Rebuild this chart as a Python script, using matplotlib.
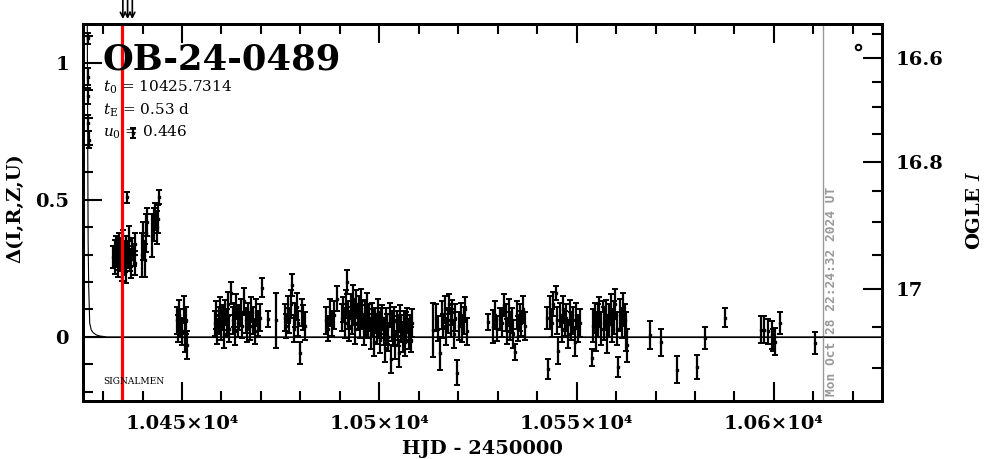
import matplotlib
matplotlib.use('Agg')
import matplotlib.pyplot as plt
from matplotlib.ticker import FixedLocator, MultipleLocator

plt.rcParams['font.family'] = ['DejaVu Serif']
plt.rcParams['mathtext.fontset'] = 'dejavuserif'

# ---------------- data ----------------
hjd = [
    # peak
    10426.05, 10426.15, 10426.20, 10426.25, 10426.30,
    # first season cluster
    10432.6, 10432.9, 10433.1, 10433.3, 10433.5, 10433.7, 10433.9, 10434.1, 10434.3, 10434.5,
    10434.7, 10434.9, 10435.1, 10435.3, 10435.5, 10435.7, 10435.9, 10436.0, 10436.2, 10436.4,
    10436.6, 10436.8, 10437.0, 10437.3, 10437.6, 10437.7, 10438.0, 10438.2,
    10439.8, 10440.2, 10440.5, 10440.8, 10441.1, 10442.5, 10442.8, 10443.2, 10443.6, 10443.9, 10444.25,
    # A
    10448.6, 10448.9, 10449.2, 10449.6, 10450.0, 10450.4, 10450.7, 10451.0, 10451.2,
    # B
    10458.3, 10458.6, 10458.9, 10459.3, 10459.6, 10459.9, 10460.3, 10460.6, 10461.0, 10461.3,
    10461.7, 10462.0, 10462.4, 10462.8, 10463.1, 10463.5, 10463.8, 10464.2, 10464.5, 10464.9,
    10465.3, 10465.7, 10466.1, 10466.4,
    # C
    10466.8, 10467.2, 10467.6, 10468.0, 10468.4, 10468.8, 10469.3, 10469.7, 10470.2, 10471.8, 10473.8,
    # D
    10476.0, 10476.4, 10476.8, 10477.2, 10477.6, 10477.9, 10478.3, 10478.7, 10479.1, 10479.5,
    10479.9, 10480.3, 10480.7, 10481.1,
    # E
    10486.5, 10487.0, 10487.5, 10488.0, 10488.6, 10489.2,
    10490.6, 10490.9, 10491.2, 10491.5, 10491.8, 10492.1, 10492.4, 10492.7, 10493.0, 10493.3,
    10493.6, 10493.9, 10494.2, 10494.5, 10494.8, 10495.1, 10495.4, 10495.7, 10496.0, 10496.3,
    10496.6, 10496.9, 10497.2, 10497.5, 10497.8, 10498.1, 10498.4, 10498.7, 10499.0, 10499.3,
    10499.6, 10499.9, 10500.2, 10500.5, 10500.8, 10501.1, 10501.4, 10501.7, 10502.0, 10502.3,
    10502.6, 10502.9, 10503.2, 10503.5, 10503.8, 10504.1, 10504.4, 10504.7, 10505.0, 10505.3,
    10505.6, 10505.9, 10506.2, 10506.5, 10506.8, 10507.1, 10507.4, 10507.7, 10508.0, 10508.3,
    # F
    10513.6, 10514.4, 10514.8, 10515.4, 10515.8, 10516.2, 10516.6, 10517.0, 10517.4, 10517.7,
    10518.1, 10518.5, 10518.9, 10519.3, 10519.8, 10520.2, 10520.6, 10521.0, 10521.4, 10521.8, 10522.2,
    # G
    10527.6, 10528.7, 10529.3, 10529.8, 10530.6, 10531.0, 10531.6, 10532.0, 10532.4, 10532.8,
    10533.2, 10533.6, 10534.0, 10534.4, 10534.8, 10535.2, 10535.6, 10536.0, 10536.5, 10536.9,
    # H
    10542.4, 10542.8, 10543.3, 10543.7, 10544.1, 10544.7, 10545.0, 10545.4, 10545.8, 10546.2,
    10546.6, 10547.0, 10547.4, 10547.8, 10548.2, 10548.6, 10549.0, 10549.5, 10549.9, 10550.4, 10550.9,
    # I
    10553.8, 10554.2, 10554.6, 10555.0, 10555.4, 10555.8, 10556.2, 10556.6, 10557.0, 10557.4,
    10557.8, 10558.2, 10558.6, 10559.0, 10559.4, 10559.8, 10560.2, 10560.6, 10561.0, 10561.4,
    10561.8, 10562.2, 10562.6, 10562.8,
    # J
    10568.6, 10571.4, 10575.4, 10580.5, 10582.5, 10587.6,
    # K
    10596.7, 10597.6, 10598.6, 10599.4, 10599.8, 10600.4, 10601.5,
    # L
    10610.4,
]

dflux = [
    1.09, 0.95, 0.88, 0.78, 0.72,
    0.29, 0.31, 0.27, 0.33, 0.30, 0.26, 0.34, 0.29, 0.32, 0.28,
    0.25, 0.31, 0.35, 0.27, 0.30, 0.33, 0.24, 0.51, 0.29, 0.31,
    0.36, 0.28, 0.26, 0.32, 0.745, 0.30, 0.34, 0.27,
    0.30, 0.35, 0.28, 0.38, 0.42, 0.37, 0.41, 0.44, 0.40, 0.43, 0.51,
    0.06, 0.03, 0.08, 0.05, 0.02, 0.10, 0.00, 0.06, -0.03,
    0.05, 0.08, 0.02, 0.06, 0.10, 0.04, 0.07, 0.01, 0.09, 0.05,
    0.12, 0.03, 0.16, 0.06, 0.08, 0.02, 0.11, 0.05, 0.07, 0.09,
    0.04, 0.13, 0.06, 0.03,
    0.08, 0.04, 0.10, 0.06, 0.02, 0.09, 0.05, 0.07, 0.18, 0.065, 0.06,
    0.07, 0.04, 0.10, 0.06, 0.12, 0.19, 0.03, 0.08, 0.11, 0.05,
    -0.06, 0.09, 0.07, 0.04,
    0.06, 0.03, 0.09, 0.05, 0.08, 0.14,
    0.07, 0.10, 0.05, 0.12, 0.20, 0.08, 0.04, 0.11, 0.06, 0.14,
    0.09, 0.03, 0.12, 0.07, 0.10, 0.05, 0.13, 0.08, 0.02, 0.09,
    0.06, 0.11, 0.04, 0.07, 0.01, 0.08, 0.05, -0.02, 0.06, 0.03,
    0.09, 0.04, -0.01, 0.05, 0.07, 0.02, -0.04, 0.06, 0.03, 0.00,
    0.08, -0.08, 0.04, 0.01, 0.06, -0.03, 0.05, 0.02, -0.06, 0.07,
    0.03, 0.00, 0.05, -0.02, 0.04, 0.06, 0.01, 0.03, -0.01, 0.05,
    0.025, 0.07, 0.03, -0.06, 0.08, 0.04, 0.10, 0.02, 0.06, 0.12,
    0.05, 0.09, 0.01, 0.07, -0.13, 0.04, 0.08, 0.03, 0.06, 0.10, 0.02,
    0.055, 0.037, 0.08, 0.03, 0.065, 0.05, 0.117, 0.07, 0.02, 0.09,
    0.04, 0.06, 0.01, -0.055, 0.08, 0.03, 0.07, 0.05, 0.10, 0.04,
    0.07, -0.117, 0.09, 0.05, 0.12, 0.16, 0.06, -0.05, 0.08, 0.03,
    0.10, 0.05, 0.07, 0.01, 0.09, 0.04, 0.06, -0.02, 0.08, 0.03, 0.05,
    -0.076, 0.04, 0.07, 0.02, 0.06, 0.09, 0.03, 0.11, 0.05, 0.08,
    0.01, 0.06, 0.10, 0.04, 0.07, 0.12, 0.03, -0.11, 0.08, 0.05,
    0.10, 0.06, 0.02, -0.03,
    0.007, -0.02, -0.12, -0.11, -0.005, 0.07,
    0.026, 0.026, 0.02, 0.007, -0.01, -0.017, 0.052,
    -0.023,
]

err = [
    0.02, 0.03, 0.03, 0.03, 0.03,
    0.04, 0.045, 0.04, 0.04, 0.045, 0.04, 0.04, 0.045, 0.04, 0.04,
    0.045, 0.04, 0.04, 0.045, 0.04, 0.04, 0.045, 0.02, 0.04, 0.04,
    0.045, 0.04, 0.045, 0.04, 0.018, 0.04, 0.04, 0.045,
    0.08, 0.07, 0.06, 0.07, 0.05, 0.08, 0.06, 0.05, 0.06, 0.05, 0.025,
    0.05, 0.05, 0.055, 0.05, 0.05, 0.05, 0.055, 0.05, 0.05,
    0.045, 0.05, 0.045, 0.05, 0.045, 0.05, 0.045, 0.05, 0.045, 0.05,
    0.045, 0.05, 0.04, 0.05, 0.045, 0.05, 0.045, 0.05, 0.045, 0.05,
    0.045, 0.05, 0.045, 0.05,
    0.045, 0.05, 0.045, 0.05, 0.045, 0.05, 0.045, 0.05, 0.035, 0.03, 0.10,
    0.05, 0.045, 0.05, 0.045, 0.05, 0.04, 0.05, 0.045, 0.05, 0.045,
    0.04, 0.05, 0.045, 0.05,
    0.05, 0.045, 0.05, 0.045, 0.05, 0.045,
    0.05, 0.045, 0.055, 0.05, 0.045, 0.05, 0.055, 0.045, 0.05, 0.05,
    0.045, 0.055, 0.05, 0.045, 0.05, 0.055, 0.045, 0.05, 0.05, 0.045,
    0.055, 0.05, 0.045, 0.05, 0.055, 0.045, 0.05, 0.05, 0.045, 0.055,
    0.05, 0.045, 0.05, 0.055, 0.045, 0.05, 0.05, 0.045, 0.055, 0.05,
    0.045, 0.05, 0.055, 0.045, 0.05, 0.05, 0.045, 0.055, 0.05, 0.045,
    0.05, 0.055, 0.045, 0.05, 0.05, 0.045, 0.055, 0.05, 0.045, 0.05,
    0.10, 0.05, 0.045, 0.06, 0.05, 0.045, 0.05, 0.05, 0.045, 0.035,
    0.05, 0.045, 0.05, 0.05, 0.045, 0.05, 0.045, 0.05, 0.05, 0.045, 0.05,
    0.03, 0.06, 0.05, 0.045, 0.04, 0.05, 0.04, 0.05, 0.045, 0.05,
    0.05, 0.045, 0.05, 0.03, 0.05, 0.045, 0.05, 0.045, 0.05, 0.05,
    0.04, 0.035, 0.06, 0.05, 0.045, 0.025, 0.05, 0.05, 0.045, 0.05,
    0.05, 0.045, 0.05, 0.05, 0.045, 0.05, 0.05, 0.05, 0.045, 0.05, 0.05,
    0.03, 0.06, 0.055, 0.07, 0.06, 0.055, 0.06, 0.02, 0.06, 0.055,
    0.07, 0.06, 0.055, 0.06, 0.06, 0.055, 0.06, 0.035, 0.06, 0.055,
    0.06, 0.06, 0.07, 0.06,
    0.05, 0.05, 0.05, 0.045, 0.04, 0.035,
    0.05, 0.05, 0.045, 0.05, 0.04, 0.05, 0.04,
    0.04,
]

# model light curve
model_hjd = [10425.9, 10426.0, 10426.1, 10426.2, 10426.35, 10426.6, 10427.0, 10427.5,
             10428.3, 10429.2, 10431.0, 10627.0]
model_dflux = [1.40, 1.10, 0.70, 0.35, 0.18, 0.05, 0.025, 0.015, 0.007, 0.003, 0.0, 0.0]

# extra symbol in upper right
circle_hjd = [10621.3]
circle_dflux = [1.058]

t_red = 10434.8
t_now = 10612.4
arrow_hjd = [10435.0, 10436.2, 10437.4]

x_major = [10450, 10500, 10550, 10600]
x_labels = ['1.045×10⁴', '1.05×10⁴', '1.055×10⁴', '1.06×10⁴']
y_major = [0, 0.5, 1]
y_labels = ['0', '0.5', '1']

ogle_mag_labels = ['16.6', '16.8', '17']
ogle_major_dpos = [1.017, 0.640, 0.174]
ogle_minor_dpos = [1.106, 0.932, 0.839, 0.741, 0.534, 0.421, 0.299, 0.035, -0.114]

# ---------------- figure ----------------
W, H = 986, 459
fig = plt.figure(figsize=(W / 100, H / 100), dpi=100)
L, R, T, B = 83, 882, 24, 401
ax = fig.add_axes([L / W, 1 - B / H, (R - L) / W, (B - T) / H])
ax.set_xlim(10424.9, 10627.4)
ax.set_ylim(-0.234, 1.142)

ax.axhline(0, color='black', lw=0.8, zorder=1)
ax.plot(model_hjd, model_dflux, color='black', lw=0.8, zorder=2)
ax.errorbar(hjd, dflux, yerr=err, fmt='s', ms=1.8, color='black', ecolor='black',
            elinewidth=1.6, capsize=2.0, capthick=1.4, zorder=3)
ax.plot(circle_hjd, circle_dflux, 'o', mfc='white', mec='black', ms=4, mew=1.4, zorder=3)
ax.axvline(t_red, color='red', lw=2.3, zorder=4)
ax.axvline(t_now, color='#999999', lw=1.0, zorder=1)

for xa in arrow_hjd:
    ax.annotate('', xy=(xa, 1.013), xycoords=('data', 'axes fraction'),
                xytext=(xa, 1.066), textcoords=('data', 'axes fraction'),
                arrowprops=dict(arrowstyle='->', lw=1.2, color='black', mutation_scale=9,
                                shrinkA=0, shrinkB=0))

# ticks
ax.xaxis.set_major_locator(FixedLocator(x_major))
ax.set_xticklabels(x_labels)
ax.xaxis.set_minor_locator(MultipleLocator(10))
ax.yaxis.set_major_locator(FixedLocator(y_major))
ax.set_yticklabels(y_labels)
ax.yaxis.set_minor_locator(MultipleLocator(0.1))
ax.tick_params(which='both', direction='in', top=True, bottom=True, left=True, right=False,
               width=1.5, labelsize=14, pad=10)
ax.tick_params(which='major', length=14)
ax.tick_params(which='minor', length=7)
for lab in ax.get_xticklabels() + ax.get_yticklabels():
    lab.set_fontweight('bold')
for sp in ax.spines.values():
    sp.set_linewidth(2.0)

ax2 = ax.twinx()
ax2.set_ylim(ax.get_ylim())
ax2.yaxis.set_major_locator(FixedLocator(ogle_major_dpos))
ax2.set_yticklabels(ogle_mag_labels)
ax2.yaxis.set_minor_locator(FixedLocator(ogle_minor_dpos))
ax2.tick_params(which='both', direction='in', width=1.5, labelsize=14, pad=10)
ax2.tick_params(which='major', length=14)
ax2.tick_params(which='minor', length=7)
for lab in ax2.get_yticklabels():
    lab.set_fontweight('bold')
for sp in ax2.spines.values():
    sp.set_linewidth(2.0)

# labels
fig.text(482 / W, 1 - 449 / H, 'HJD - 2450000', ha='center', va='center',
         fontsize=14, fontweight='bold')
fig.text(15 / W, 1 - 208 / H, 'Δ(I,R,Z,U)', ha='center', va='center', rotation=90,
         fontsize=14, fontweight='bold')
fig.text(975 / W, 1 - 210 / H, r'OGLE $\mathbf{\it{I}}$', ha='center', va='center', rotation=90,
         fontsize=14, fontweight='bold')

# annotations
fig.text(103 / W, 1 - 69 / H, 'OB-24-0489', ha='left', va='baseline',
         fontsize=25.5, fontweight='bold')
fig.text(103 / W, 1 - 92 / H, r'$t_0$ = 10425.7314', ha='left', va='baseline', fontsize=11)
fig.text(103 / W, 1 - 115 / H, r'$t_{\rm E}$ = 0.53 d', ha='left', va='baseline', fontsize=11)
fig.text(103 / W, 1 - 137 / H, r'$u_0$ = 0.446', ha='left', va='baseline', fontsize=11)
fig.text(103 / W, 1 - 384 / H, 'SIGNALMEN', ha='left', va='baseline', fontsize=6.5)
ax.text(t_now + 0.6, -0.215, 'Mon Oct 28 22:24:32 2024 UT', rotation=90, ha='left', va='bottom',
        fontsize=9.3, fontweight='bold', family='DejaVu Sans Mono', color='#999999')

fig.savefig('out.png', dpi=100)
